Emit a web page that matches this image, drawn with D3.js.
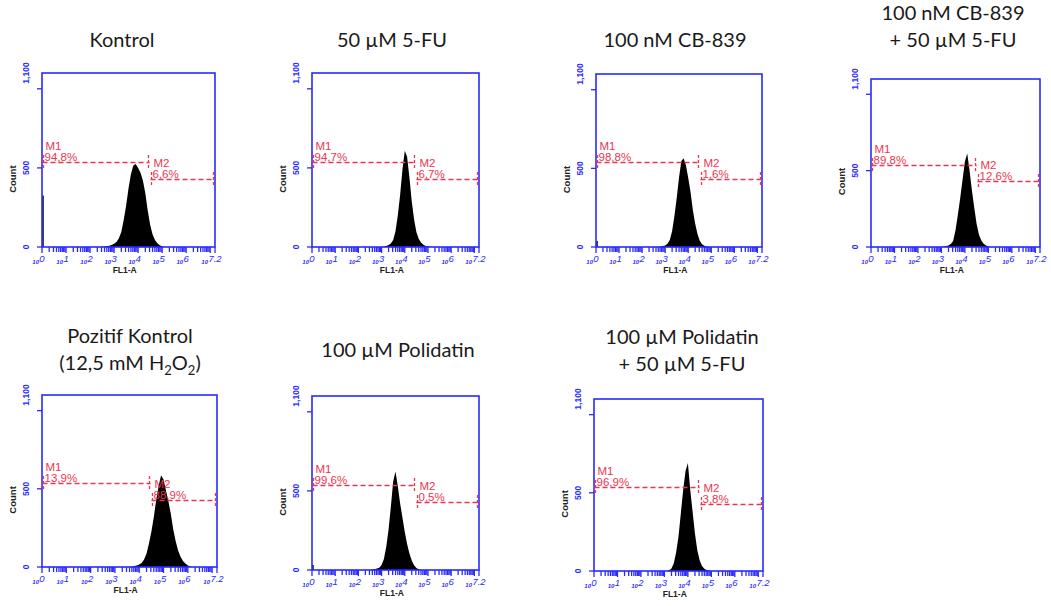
<!DOCTYPE html>
<html>
<head>
<meta charset="utf-8">
<script src="https://cdn.jsdelivr.net/npm/d3@7"></script>
<style>
  body { margin: 0; background: #fff; }
</style>
</head>
<body>
<div id="chart"></div>
<script>
// flow cytometry histograms, counts read per 0.1 decade of FL1-A
const binStep = 0.1;

const kontrolStart = 2.5;
const kontrolCounts = [2, 3, 5, 8, 12, 20, 32, 55, 95, 170, 260, 370, 460, 515, 525, 500, 470, 420, 340, 230, 140, 80, 45, 24, 11, 4, 0];

const fuStart = 3.1;
const fuCounts = [3, 6, 12, 22, 45, 100, 200, 330, 490, 609, 570, 440, 290, 175, 95, 52, 28, 14, 7, 3, 2, 0];

const cbStart = 2.8;
const cbCounts = [3, 6, 10, 20, 45, 100, 195, 310, 440, 545, 565, 520, 440, 350, 235, 150, 85, 40, 18, 8, 3, 0];

const cbFuStart = 3.1;
const cbFuCounts = [3, 6, 10, 20, 40, 110, 210, 320, 440, 560, 612, 500, 370, 255, 150, 80, 42, 22, 10, 4, 0];

const pozitifStart = 3.7;
const pozitifCounts = [3, 6, 10, 16, 26, 48, 85, 150, 225, 320, 430, 520, 586, 560, 490, 420, 340, 240, 165, 105, 65, 38, 22, 9, 3, 0];

const polStart = 2.6;
const polCounts = [3, 5, 9, 15, 32, 70, 145, 255, 400, 560, 622, 530, 420, 330, 240, 165, 105, 60, 30, 13, 5, 0];

const polFuStart = 3.2;
const polFuCounts = [5, 16, 50, 120, 220, 370, 520, 640, 690, 520, 380, 240, 135, 68, 32, 15, 7, 3, 0];

// events piled up at the first channel
const edgeCounts = [325, 0, 38, 0, 0, 32, 0];

// markers
const markerNames = ["M1", "M2"];
const markerLevels = [540, 430];
const markerRanges = [[1, Math.pow(10, 4.5)], [Math.pow(10, 4.5), Math.pow(10, 7.2)]];
const m1Pct = ["94,8%", "94,7%", "98,8%", "89,8%", "13,9%", "99,6%", "96,9%"];
const m2Pct = ["6,6%", "6,7%", "1,6%", "12,6%", "88,9%", "0,5%", "3,8%"];

const titles = [
  ["Kontrol"],
  ["50 µM 5-FU"],
  ["100 nM CB-839"],
  ["100 nM CB-839", "+ 50 µM 5-FU"],
  ["Pozitif Kontrol", "(12,5 mM H_2O_2)"],
  ["100 µM Polidatin"],
  ["100 µM Polidatin", "+ 50 µM 5-FU"]
];

const yTickLabels = ["0", "500", "1,100"];
const decades = [0, 1, 2, 3, 4, 5, 6, 7.2];

// layout (left, top, right, bottom) of each plot box, and title placement
const boxes = [
  [42, 73, 215, 247], [312, 73, 479, 247], [596, 74, 762, 247], [871, 79, 1040, 247],
  [42, 395, 217, 567], [312, 396, 479, 570], [594, 399, 763, 571]
];
const titleX = [122, 392, 675, 953, 130, 398, 682];
const titleY = [47, 47, 47, 20, 343, 357, 344];

const blue = "#2a2aff", red = "#ec3550";

const series = [
  [kontrolStart, kontrolCounts], [fuStart, fuCounts], [cbStart, cbCounts], [cbFuStart, cbFuCounts],
  [pozitifStart, pozitifCounts], [polStart, polCounts], [polFuStart, polFuCounts]
];

const svg = d3.select("#chart").append("svg")
  .attr("width", 1051)
  .attr("height", 606)
  .style("font-family", "'Liberation Sans', Arial, sans-serif");

series.forEach(function(s, i) {
  let b = boxes[i];
  let left = b[0], top = b[1], right = b[2], bottom = b[3];

  let x = d3.scaleLog().domain([1, Math.pow(10, 7.2)]).range([left, right]);
  let y = d3.scaleLinear().domain([0, 1100]).range([bottom, top]);

  let g = svg.append("g");

  // title
  let tt = svg.append("text")
    .attr("text-anchor", "middle")
    .style("font-family", "Lato, 'Open Sans', sans-serif")
    .style("font-size", "20px")
    .attr("fill", "#1a1a1a");
  titles[i].forEach(function(line, k) {
    let t = tt.append("tspan").attr("x", titleX[i]).attr("y", titleY[i] + k * 27);
    let shift = 0;
    line.split(/(_2)/).forEach(function(part) {
      if (!part) return;
      if (part == "_2") {
        t.append("tspan").attr("dy", 5).style("font-size", "13px").text("2");
        shift = -5;
      } else {
        t.append("tspan").attr("dy", shift).text(part);
        shift = 0;
      }
    });
  });

  // histogram
  let pts = s[1].map(function(c, k) { return { e: s[0] + k * binStep, c: c }; });
  pts.unshift({ e: s[0] - binStep, c: 0 });
  let area = d3.area()
    .x(function(d) { return x(Math.pow(10, d.e)); })
    .y0(y(0))
    .y1(function(d) { return y(d.c); });
  g.append("path").datum(pts).attr("d", area).attr("fill", "#000");

  if (edgeCounts[i] > 0) {
    g.append("line")
      .attr("x1", left + 1).attr("x2", left + 1)
      .attr("y1", y(0)).attr("y2", y(edgeCounts[i]))
      .attr("stroke", "#000").attr("stroke-width", 1.5);
  }

  // box
  g.append("rect")
    .attr("x", left).attr("y", top)
    .attr("width", right - left).attr("height", bottom - top)
    .attr("fill", "none").attr("stroke", blue).attr("stroke-width", 1.6);

  // x minor ticks
  let ticks = [];
  for (let d = 0; d <= 7; d++) {
    for (let m = 1; m <= 9; m++) {
      let v = m * Math.pow(10, d);
      if (v <= Math.pow(10, 7.2)) ticks.push({ v: v, major: m == 1 });
    }
  }
  ticks.push({ v: Math.pow(10, 7.2), major: true });
  g.selectAll(null).data(ticks).enter().append("line")
    .attr("x1", function(d) { return x(d.v); })
    .attr("x2", function(d) { return x(d.v); })
    .attr("y1", bottom)
    .attr("y2", function(d) { return bottom + (d.major ? 6 : 5); })
    .attr("stroke", blue).attr("stroke-width", 1.3);

  // x tick labels like 10^3
  decades.forEach(function(d) {
    let px = x(Math.pow(10, d));
    let ex = d == 7.2 ? "7.2" : String(d);
    g.append("text")
      .attr("x", px).attr("y", bottom + 15)
      .attr("text-anchor", "middle")
      .style("font-size", "9.5px").style("font-style", "italic")
      .attr("fill", blue).text(ex);
    g.append("text")
      .attr("x", px - (ex.length > 1 ? 7 : 3)).attr("y", bottom + 17)
      .attr("text-anchor", "end")
      .style("font-size", "6px").style("font-style", "italic").style("font-weight", "bold")
      .attr("fill", blue).text("10");
  });

  g.append("text")
    .attr("x", left + 0.478 * (right - left)).attr("y", bottom + 26)
    .attr("text-anchor", "middle")
    .style("font-size", "8.5px").style("font-weight", "bold")
    .attr("fill", "#222").text("FL1-A");

  // y ticks
  [0, 500, 1000].forEach(function(v) {
    g.append("line")
      .attr("x1", left - 5).attr("x2", left)
      .attr("y1", y(v)).attr("y2", y(v))
      .attr("stroke", blue).attr("stroke-width", 1.3);
  });
  [0, 500, 1100].forEach(function(v, k) {
    g.append("text")
      .attr("transform", "translate(" + (left - 13) + "," + y(v) + ") rotate(-90)")
      .attr("text-anchor", "middle")
      .style("font-size", "8.5px").style("font-weight", "bold")
      .attr("fill", blue).text(yTickLabels[k]);
  });

  g.append("text")
    .attr("transform", "translate(" + (left - 26) + "," + (top + 0.61 * (bottom - top)) + ") rotate(-90)")
    .attr("text-anchor", "middle")
    .style("font-size", "9.5px").style("font-weight", "bold")
    .attr("fill", "#222").text("Count");

  // markers
  let pcts = [m1Pct[i], m2Pct[i]];
  markerNames.forEach(function(name, k) {
    let ly = Math.round(y(markerLevels[k])) + 0.5;
    let x0 = Math.round(x(markerRanges[k][0])) + 0.5, x1 = Math.round(x(markerRanges[k][1])) - 0.5;
    let mg = g.append("g").attr("stroke", red).attr("stroke-width", 1.3).attr("stroke-dasharray", "5,3");
    mg.append("line").attr("x1", x0).attr("x2", x1).attr("y1", ly).attr("y2", ly);
    mg.append("line").attr("x1", x0 + 1).attr("x2", x0 + 1).attr("y1", ly - 7.5).attr("y2", ly + 7.5).attr("stroke-dasharray", "3,2");
    mg.append("line").attr("x1", x1 - 1).attr("x2", x1 - 1).attr("y1", ly - 7.5).attr("y2", ly + 7.5).attr("stroke-dasharray", "3,2");
    g.append("text")
      .attr("x", x0 + 3).attr("y", ly - 12.5)
      .style("font-size", "11.5px").attr("fill", red).text(name);
    g.append("text")
      .attr("x", x0 + 2).attr("y", ly - 1.7)
      .style("font-size", "11.5px").attr("fill", red).text(pcts[k]);
  });
});
</script>
</body>
</html>
